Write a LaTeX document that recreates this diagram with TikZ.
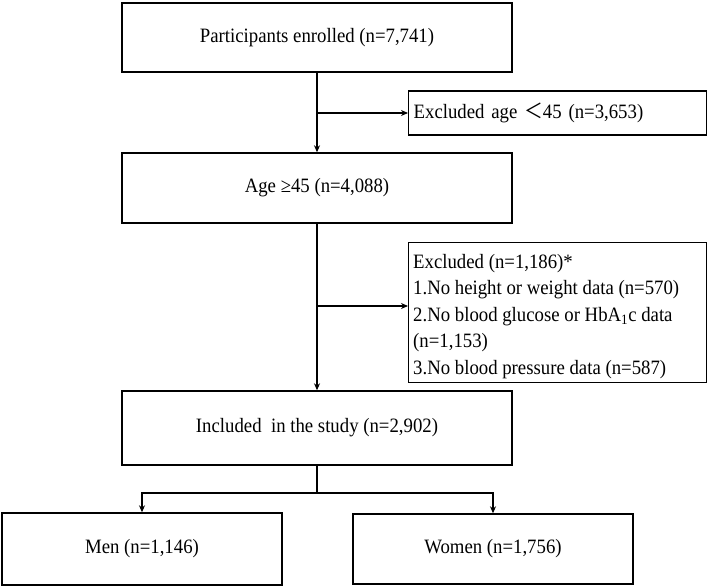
\documentclass[tikz,border=0pt]{standalone}
\usepackage{fontspec}
\setmainfont[FakeStretch=0.92]{Liberation Serif}
\newfontfamily\cjkfont[FakeStretch=0.92]{Noto Sans CJK SC}
\usetikzlibrary{arrows.meta,calc}
\begin{document}
\begin{tikzpicture}[x=1pt,y=-1pt,
  box/.style={draw=black, line width=1.4pt, rectangle, inner sep=0pt, font=\fontsize{20.4}{26.5}\selectfont},
  txt/.style={inner sep=0pt, align=left, anchor=north west, font=\fontsize{20.4}{26.5}\selectfont},
  arr/.style={-{Stealth[length=7pt,width=6pt]}, line width=1.2pt},
  ln/.style={line width=1.2pt}]
\useasboundingbox (0,0) rectangle (709,586);
\node[box, minimum width=390pt, minimum height=69pt] (enr) at (317,37.5) {Participants enrolled (n=7,741)};
\node[box, minimum height=44pt, anchor=west, inner xsep=5pt, text width=288pt, align=left] (ex1) at (408,113) {Excluded age {\cjkfont ＜}45 (n=3,653)};
\node[box, minimum width=390pt, minimum height=70pt] (age) at (317,188) {Age ≥45 (n=4,088)};
\node[box, minimum width=298pt, minimum height=140pt, anchor=north west] (ex2) at (408,242) {};
\node[txt] (ex2t) at ($(ex2.north west)+(5,12)$) {Excluded (n=1,186)*\\1.No height or weight data (n=570)\\2.No blood glucose or HbA\textsubscript{1}c data\\(n=1,153)\\3.No blood pressure data (n=587)};
\node[box, minimum width=390pt, minimum height=74pt] (inc) at (317,428) {Included\ \ in the study (n=2,902)};
\node[box, minimum width=280pt, minimum height=72pt] (men) at (142,549) {Men (n=1,146)};
\node[box, minimum width=280pt, minimum height=70pt] (wom) at (493,549) {Women (n=1,756)};
\coordinate (j1) at (enr.south |- ex1.west);
\coordinate (j2) at (317,306);
\coordinate (br) at (317,493);
\draw[arr] (enr.south) -- (age.north);
\draw[arr] (j1) -- (ex1.west);
\draw[arr] (age.south) -- (inc.north);
\draw[arr] (j2) -- (j2 -| ex2.west);
\draw[ln] (inc.south) -- (br);
\draw[arr] (br) -| (men.north);
\draw[arr] (br) -| (wom.north);
\end{tikzpicture}
\end{document}
